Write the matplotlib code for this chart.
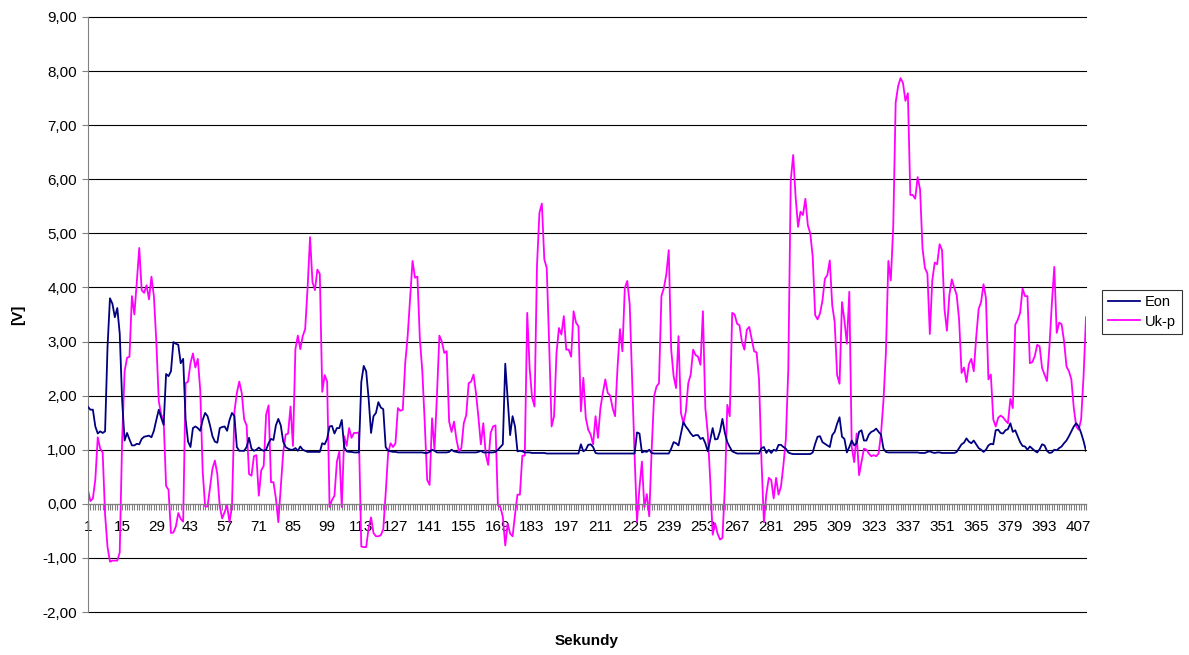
import numpy as np
import matplotlib.pyplot as plt
from matplotlib.ticker import FixedLocator, FuncFormatter

plt.rcParams['font.family'] = ['Liberation Sans', 'DejaVu Sans']

# measured signals, one sample per second
eon = [
    1.79, 1.74, 1.74, 1.43, 1.30, 1.34, 1.31, 1.34, 2.90, 3.80,
    3.70, 3.45, 3.62, 3.15, 1.90, 1.17, 1.31, 1.19, 1.08, 1.08,
    1.11, 1.10, 1.20, 1.24, 1.25, 1.26, 1.23, 1.35, 1.55, 1.74,
    1.59, 1.46, 2.40, 2.36, 2.45, 2.99, 2.96, 2.94, 2.60, 2.68,
    1.56, 1.15, 1.05, 1.40, 1.43, 1.40, 1.35, 1.55, 1.68, 1.62,
    1.45, 1.25, 1.15, 1.13, 1.40, 1.42, 1.43, 1.35, 1.55, 1.68,
    1.62, 1.05, 0.98, 0.98, 0.98, 1.05, 1.22, 1.02, 0.98, 1.00,
    1.04, 1.00, 0.98, 1.00, 1.12, 1.20, 1.18, 1.45, 1.57, 1.45,
    1.15, 1.05, 1.02, 1.00, 1.00, 1.03, 0.98, 1.06, 1.00, 0.98,
    0.96, 0.96, 0.96, 0.96, 0.96, 0.96, 1.12, 1.10, 1.20, 1.43,
    1.44, 1.30, 1.40, 1.40, 1.55, 1.05, 0.97, 0.96, 0.96, 0.95,
    0.95, 0.95, 2.25, 2.55, 2.45, 1.95, 1.31, 1.62, 1.68, 1.88,
    1.78, 1.75, 1.05, 0.98, 0.97, 0.96, 0.96, 0.95, 0.95, 0.95,
    0.95, 0.95, 0.95, 0.95, 0.95, 0.95, 0.95, 0.95, 0.94, 0.94,
    0.96, 1.00, 0.98, 0.95, 0.95, 0.95, 0.95, 0.95, 0.96, 1.00,
    0.97, 0.96, 0.95, 0.95, 0.95, 0.95, 0.95, 0.95, 0.95, 0.95,
    0.96, 0.98, 0.95, 0.95, 0.95, 0.95, 0.95, 0.96, 1.00, 1.05,
    1.10, 2.59, 1.93, 1.27, 1.62, 1.43, 0.97, 0.98, 0.97, 0.95,
    0.95, 0.95, 0.94, 0.94, 0.94, 0.94, 0.94, 0.94, 0.93, 0.93,
    0.93, 0.93, 0.93, 0.93, 0.93, 0.93, 0.93, 0.93, 0.93, 0.93,
    0.93, 0.93, 1.10, 0.97, 1.00, 1.09, 1.10, 1.05, 0.94, 0.93,
    0.93, 0.93, 0.93, 0.93, 0.93, 0.93, 0.93, 0.93, 0.93, 0.93,
    0.93, 0.93, 0.93, 0.93, 0.93, 1.32, 1.30, 0.95, 0.97, 0.96,
    1.00, 0.94, 0.93, 0.93, 0.93, 0.93, 0.93, 0.93, 0.93, 1.02,
    1.14, 1.12, 1.08, 1.30, 1.51, 1.43, 1.37, 1.30, 1.25, 1.27,
    1.27, 1.20, 1.22, 1.12, 0.97, 1.19, 1.40, 1.19, 1.20, 1.34,
    1.57, 1.31, 1.14, 1.05, 0.97, 0.95, 0.93, 0.93, 0.93, 0.93,
    0.93, 0.93, 0.93, 0.93, 0.93, 0.93, 1.03, 1.05, 0.94, 1.00,
    0.94, 1.00, 0.98, 1.09, 1.09, 1.05, 1.02, 0.95, 0.93, 0.92,
    0.92, 0.92, 0.92, 0.92, 0.92, 0.92, 0.92, 0.95, 1.11, 1.24,
    1.25, 1.14, 1.11, 1.08, 1.05, 1.27, 1.33, 1.48, 1.60, 1.24,
    1.20, 0.95, 1.05, 1.17, 1.08, 1.12, 1.33, 1.36, 1.17, 1.17,
    1.28, 1.33, 1.35, 1.39, 1.33, 1.28, 1.02, 0.96, 0.95, 0.95,
    0.95, 0.95, 0.95, 0.95, 0.95, 0.95, 0.95, 0.95, 0.95, 0.95,
    0.95, 0.94, 0.94, 0.94, 0.96, 0.97, 0.95, 0.94, 0.95, 0.95,
    0.94, 0.94, 0.94, 0.94, 0.94, 0.94, 0.96, 1.03, 1.10, 1.13,
    1.21, 1.15, 1.12, 1.17, 1.10, 1.03, 1.00, 0.96, 1.00, 1.08,
    1.11, 1.10, 1.36, 1.37, 1.31, 1.30, 1.36, 1.38, 1.49, 1.33,
    1.36, 1.25, 1.14, 1.07, 1.06, 1.00, 1.06, 1.02, 0.98, 0.95,
    1.01, 1.10, 1.08, 0.98, 0.94, 0.95, 1.00, 0.99, 1.03, 1.06,
    1.12, 1.17, 1.25, 1.34, 1.43, 1.49, 1.43, 1.31, 1.16, 0.98,
]

uk_p = [
    0.25, 0.05, 0.10, 0.45, 1.23, 1.02, 0.95, -0.20, -0.80, -1.07,
    -1.05, -1.05, -1.05, -0.90, 1.20, 2.45, 2.70, 2.72, 3.84, 3.50,
    4.10, 4.73, 3.95, 3.90, 4.04, 3.78, 4.20, 3.84, 3.00, 1.90,
    1.65, 1.55, 0.33, 0.26, -0.54, -0.53, -0.42, -0.17, -0.28, -0.33,
    2.23, 2.26, 2.60, 2.78, 2.52, 2.68, 2.10, 0.60, -0.05, -0.05,
    0.30, 0.65, 0.80, 0.55, -0.05, -0.27, -0.15, -0.03, -0.34, -0.05,
    1.70, 2.05, 2.26, 2.05, 1.56, 1.45, 0.55, 0.52, 0.88, 0.90,
    0.15, 0.62, 0.70, 1.65, 1.82, 0.40, 0.40, 0.10, -0.34, 0.30,
    0.95, 1.28, 1.30, 1.80, 1.07, 2.86, 3.11, 2.86, 3.10, 3.23,
    4.00, 4.93, 4.10, 3.95, 4.33, 4.25, 2.07, 2.38, 2.26, -0.06,
    0.07, 0.15, 0.78, 0.97, -0.06, 1.25, 1.07, 1.40, 1.22, 1.31,
    1.31, 1.32, -0.79, -0.80, -0.80, -0.45, -0.25, -0.54, -0.60, -0.60,
    -0.58, -0.47, 0.20, 0.94, 1.12, 1.05, 1.12, 1.77, 1.72, 1.74,
    2.60, 3.10, 3.80, 4.49, 4.18, 4.20, 3.05, 2.46, 1.50, 0.44,
    0.35, 1.58, 1.00, 2.00, 3.11, 3.00, 2.79, 2.82, 1.52, 1.33,
    1.52, 1.19, 0.97, 1.03, 1.49, 1.64, 2.23, 2.26, 2.39, 2.05,
    1.60, 1.10, 1.49, 0.91, 0.72, 1.31, 1.43, 1.45, -0.03, -0.06,
    -0.24, -0.77, -0.37, -0.55, -0.60, -0.20, 0.17, 0.17, 0.89, 0.89,
    3.53, 2.50, 1.96, 1.80, 4.40, 5.38, 5.55, 4.52, 4.36, 2.94,
    1.43, 1.62, 2.79, 3.25, 3.13, 3.47, 2.85, 2.85, 2.72, 3.56,
    3.35, 3.28, 1.71, 2.33, 1.59, 1.37, 1.28, 1.10, 1.62, 1.22,
    1.77, 2.05, 2.30, 2.05, 2.00, 1.77, 1.62, 2.51, 3.23, 2.82,
    3.99, 4.12, 3.69, 2.30, 0.90, -0.33, 0.30, 0.78, -0.06, 0.18,
    -0.23, 1.00, 1.99, 2.17, 2.23, 3.84, 3.99, 4.24, 4.69, 2.85,
    2.36, 2.14, 3.10, 1.68, 1.49, 1.70, 2.23, 2.39, 2.85, 2.75,
    2.72, 2.57, 3.56, 1.77, 1.30, 0.44, -0.57, -0.36, -0.55, -0.66,
    -0.63, 0.30, 1.83, 1.62, 3.53, 3.50, 3.33, 3.30, 2.99, 2.85,
    3.22, 3.27, 3.04, 2.82, 2.80, 2.30, 0.80, -0.34, 0.18, 0.48,
    0.44, 0.10, 0.48, 0.17, 0.32, 0.72, 1.20, 2.50, 5.98, 6.45,
    5.67, 5.12, 5.40, 5.34, 5.64, 5.15, 5.00, 4.57, 3.49, 3.41,
    3.52, 3.76, 4.16, 4.23, 4.50, 3.67, 3.36, 2.38, 2.22, 3.73,
    3.39, 2.96, 3.92, 1.05, 0.77, 1.30, 0.53, 0.77, 1.02, 1.00,
    0.93, 0.88, 0.90, 0.88, 0.93, 1.30, 1.91, 2.80, 4.49, 4.13,
    5.12, 7.42, 7.72, 7.87, 7.78, 7.45, 7.59, 5.71, 5.71, 5.64,
    6.04, 5.81, 4.72, 4.36, 4.26, 3.14, 4.13, 4.46, 4.43, 4.80,
    4.69, 3.60, 3.20, 3.86, 4.15, 4.00, 3.86, 3.40, 2.42, 2.52,
    2.25, 2.58, 2.68, 2.45, 3.08, 3.60, 3.73, 4.06, 3.80, 2.30,
    2.39, 1.56, 1.43, 1.59, 1.63, 1.60, 1.54, 1.49, 1.94, 1.77,
    3.31, 3.40, 3.53, 3.98, 3.84, 3.84, 2.60, 2.62, 2.73, 2.94,
    2.91, 2.51, 2.39, 2.27, 2.90, 3.70, 4.38, 3.16, 3.35, 3.32,
    3.01, 2.54, 2.45, 2.30, 1.77, 1.43, 1.37, 1.56, 2.36, 3.45,
]

seconds = np.arange(1, len(eon) + 1)
label_seconds = list(range(1, len(eon) + 1, 14))
y_ticks = list(range(-2, 10))

fig = plt.figure(figsize=(11.89, 6.55), dpi=100)
ax = fig.add_axes([88 / 1189, 1 - 612 / 655, (1086 - 88) / 1189, (612 - 17) / 655])

for y in y_ticks:
    ax.axhline(y, color='black', linewidth=0.8, zorder=0, clip_on=False)

ax.plot(seconds, eon, color='#000080', linewidth=1.3, label='Eon', zorder=3)
ax.plot(seconds, uk_p, color='#FF00FF', linewidth=1.3, label='Uk-p', zorder=2)

ax.set_xlim(1, len(eon))
ax.set_ylim(-2, 9)

# category axis sits on zero, a tick mark for every second
ax.spines['bottom'].set_position(('data', 0))
ax.spines['top'].set_visible(False)
ax.spines['right'].set_visible(False)
ax.spines['left'].set_color('#808080')
ax.spines['bottom'].set_color('#808080')
ax.xaxis.set_major_locator(FixedLocator(label_seconds))
ax.xaxis.set_minor_locator(FixedLocator(seconds))
ax.tick_params(axis='x', which='both', direction='out', length=4, width=0.8,
               color='#808080', labelsize=11, pad=8)
ax.set_xticklabels([str(s) for s in label_seconds])

ax.set_yticks(y_ticks)
ax.yaxis.set_major_formatter(FuncFormatter(lambda v, p: f'{v:.2f}'.replace('.', ',')))
ax.tick_params(axis='y', direction='out', length=4, width=0.8, color='#808080',
               labelsize=11, pad=4)

fig.text(18 / 1189, 1 - 315 / 655, '[V]', rotation=90, fontsize=11, fontweight='bold',
         ha='center', va='center')
fig.text(587 / 1189, 1 - 641 / 655, 'Sekundy', fontsize=11, fontweight='bold',
         ha='center', va='center')

leg = fig.legend(loc='center left', bbox_to_anchor=(1102 / 1189, 1 - 312 / 655),
                 fontsize=10.5, frameon=True, fancybox=False, handlelength=2.2,
                 handletextpad=0.35, borderpad=0.4, labelspacing=0.35,
                 borderaxespad=0.0)
leg.get_frame().set_edgecolor('black')
leg.get_frame().set_linewidth(0.8)

fig.savefig('out.png', dpi=100)
